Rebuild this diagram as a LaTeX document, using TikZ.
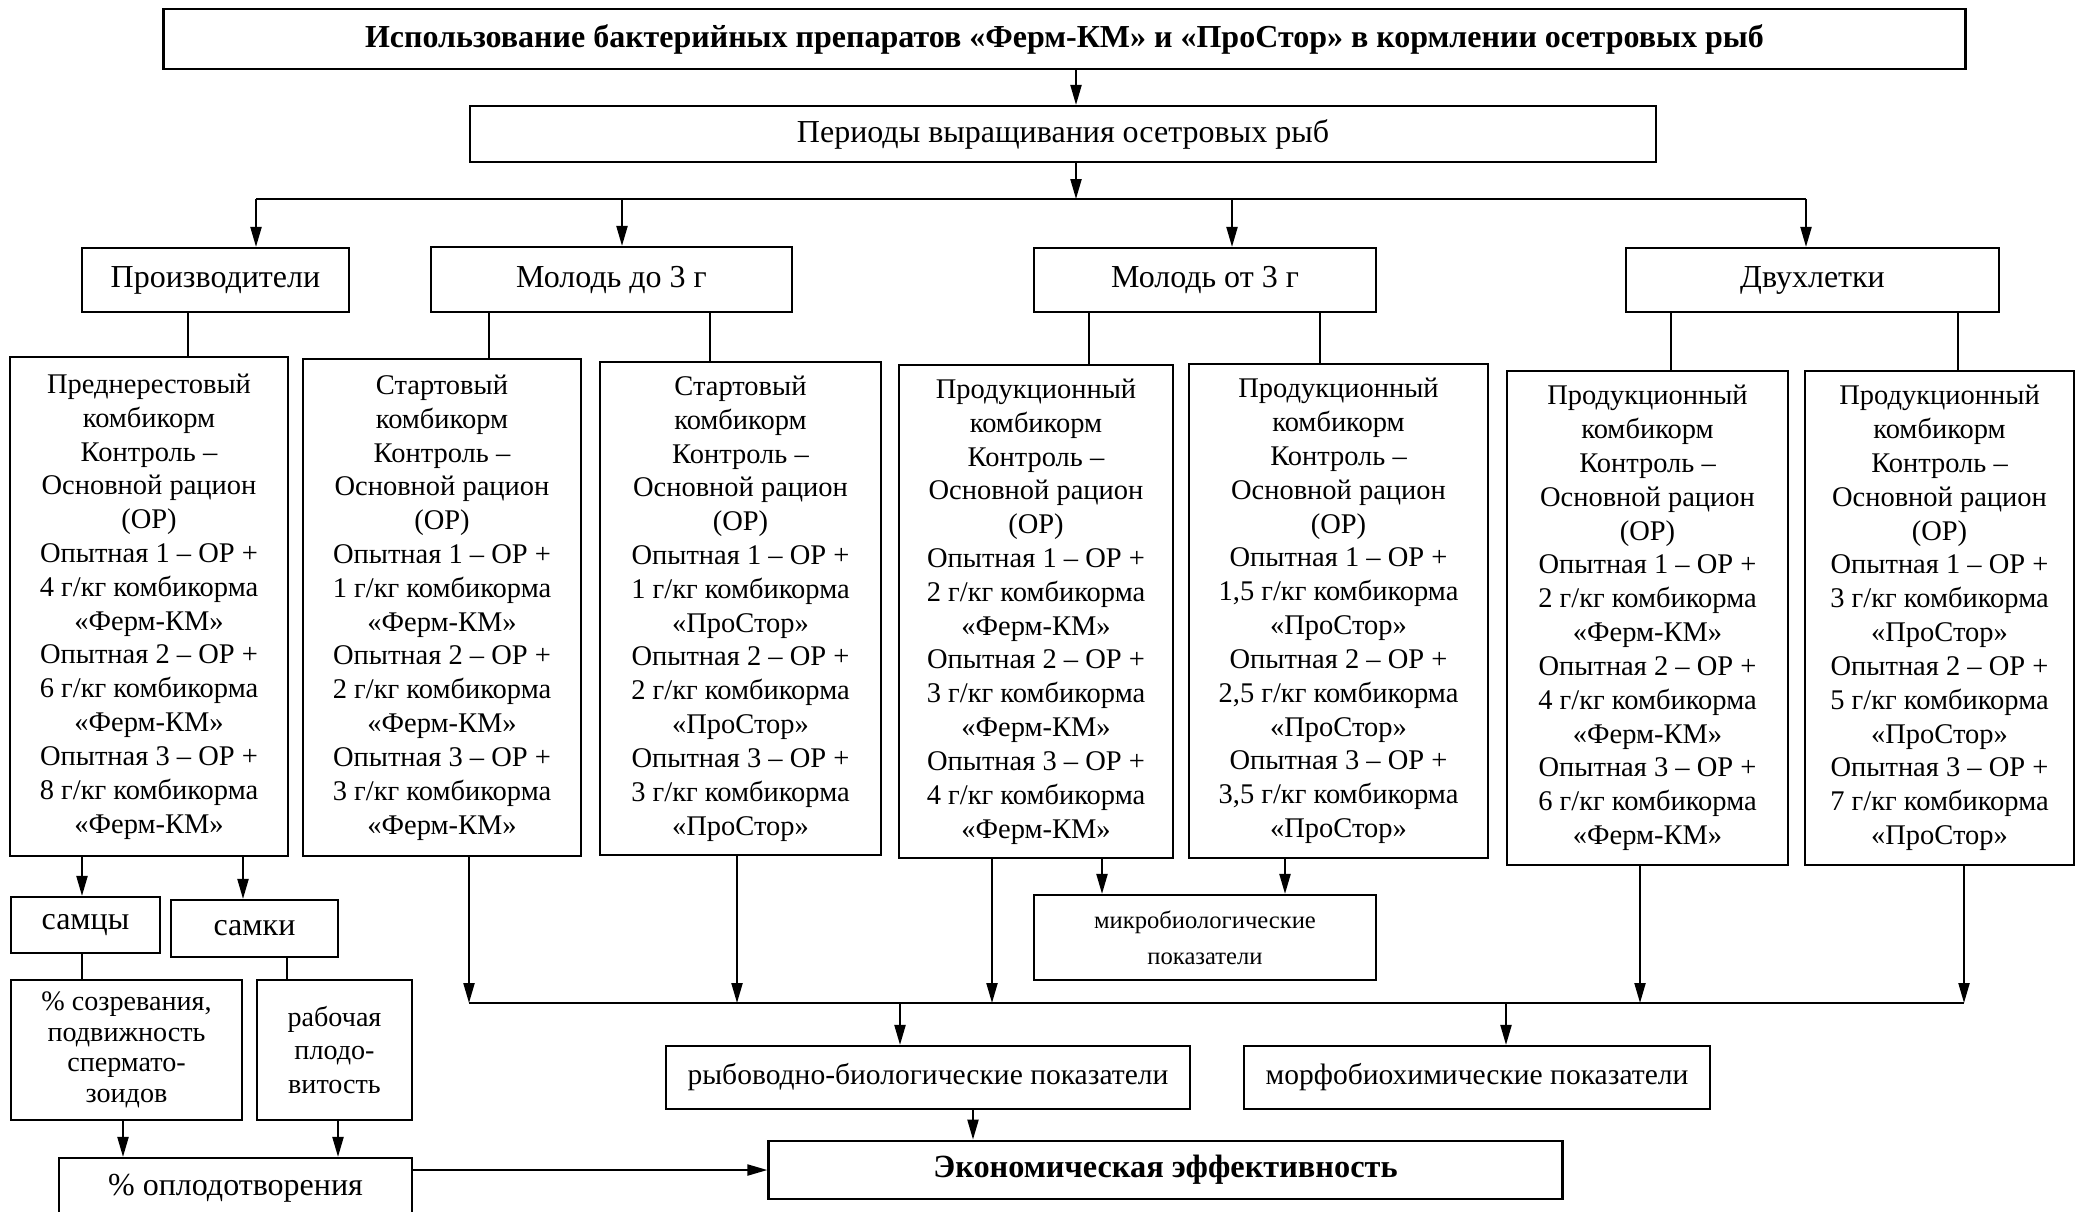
\documentclass[tikz,border=0pt]{standalone}
\usepackage{fontspec}
\setmainfont{Liberation Serif}
\usetikzlibrary{arrows.meta}

\newcommand{\korm}[5]{#1\\комбикорм\\Контроль --\\Основной рацион\\(ОР)\\Опытная 1 -- ОР +\\#2 г/кг комбикорма\\«#5»\\Опытная 2 -- ОР +\\#3 г/кг комбикорма\\«#5»\\Опытная 3 -- ОР +\\#4 г/кг комбикорма\\«#5»}

\begin{document}
\begin{tikzpicture}[x=0.01cm, y=-0.01cm,
        box/.style={draw, line width=0.6pt, inner sep=0pt, align=center},
        big/.style={font=\fontsize{9.1}{11}\selectfont},
        body/.style={font=\fontsize{8.1}{9.62}\selectfont},
        small/.style={font=\fontsize{7}{10.2}\selectfont},
        arr/.style={-{Triangle[length=2mm, width=1.1mm]}, line width=0.6pt}]
    \clip (0,0) rectangle (2076,1211);

    % top
    \node[box, line width=0.8pt, font=\fontsize{9.1}{11}\selectfont\bfseries, minimum width=18.01cm, minimum height=0.6cm] (title) at (1064.5,39)
        {Использование бактерийных препаратов «Ферм-КМ» и «ПроСтор» в кормлении осетровых рыб};
    \node[box, big, minimum width=11.86cm, minimum height=0.56cm] (periods) at (1063,134) {Периоды выращивания осетровых рыб};

    % periods
    \node[box, big, minimum width=2.67cm, minimum height=0.64cm] (prod) at (215.5,280) {Производители};
    \node[box, big, minimum width=3.61cm, minimum height=0.65cm] (mol1) at (611.5,279.5) {Молодь до 3 г};
    \node[box, big, minimum width=3.42cm, minimum height=0.64cm] (mol2) at (1205,280) {Молодь от 3 г};
    \node[box, big, minimum width=3.73cm, minimum height=0.64cm] (dvu) at (1812.5,280) {Двухлетки};

    % feeds
    \node[box, body, minimum width=2.78cm, minimum height=4.99cm] (pre) at (149,606.5) {\korm{Преднерестовый}{4}{6}{8}{Ферм-КМ}};
    \node[box, body, minimum width=2.78cm, minimum height=4.97cm] (startF) at (442,607.5) {\korm{Стартовый}{1}{2}{3}{Ферм-КМ}};
    \node[box, body, minimum width=2.81cm, minimum height=4.93cm] (startP) at (740.5,608.5) {\korm{Стартовый}{1}{2}{3}{ПроСтор}};
    \node[box, body, minimum width=2.74cm, minimum height=4.93cm] (prodF) at (1036,611.5) {\korm{Продукционный}{2}{3}{4}{Ферм-КМ}};
    \node[box, body, minimum width=2.99cm, minimum height=4.94cm] (prodP) at (1338.5,611) {\korm{Продукционный}{1,5}{2,5}{3,5}{ПроСтор}};
    \node[box, body, minimum width=2.81cm, minimum height=4.94cm] (dvuF) at (1647.5,618) {\korm{Продукционный}{2}{4}{6}{Ферм-КМ}};
    \node[box, body, minimum width=2.69cm, minimum height=4.94cm] (dvuP) at (1939.5,618) {\korm{Продукционный}{3}{5}{7}{ПроСтор}};

    % results
    \node[box, big, minimum width=1.49cm, minimum height=0.56cm] (samcy) at (85.5,925) {самцы};
    \node[box, big, minimum width=1.67cm, minimum height=0.57cm] (samki) at (254.5,928.5) {самки};
    \node[box, font=\fontsize{8}{8.7}\selectfont, minimum width=2.31cm, minimum height=1.4cm] (sozr) at (126.5,1050) {\% созревания,\\подвижность\\спермато-\\зоидов};
    \node[box, font=\fontsize{8}{9.4}\selectfont, minimum width=1.55cm, minimum height=1.4cm] (rab) at (334.5,1050) {рабочая\\плодо-\\витость};
    \node[box, big, minimum width=3.53cm, minimum height=0.6cm] (oplod) at (235.5,1188) {\% оплодотворения};
    \node[box, small, minimum width=3.42cm, minimum height=0.85cm] (mikro) at (1205,937.5) {микробиологические\\показатели};
    \node[box, font=\fontsize{8.4}{10}\selectfont, minimum width=5.24cm, minimum height=0.63cm] (ryb) at (928,1077.5) {рыбоводно-биологические показатели};
    \node[box, font=\fontsize{8.4}{10}\selectfont, minimum width=4.66cm, minimum height=0.63cm] (morf) at (1477,1077.5) {морфобиохимические показатели};
    \node[box, line width=0.8pt, font=\fontsize{9.2}{11}\selectfont\bfseries, minimum width=7.93cm, minimum height=0.58cm] (econ) at (1165.5,1170) {Экономическая эффективность};

    \coordinate (hub) at (1076,199);
    \coordinate (busL) at (256,199);
    \coordinate (busR) at (1806,199);
    \coordinate (sumL) at (469,1003);
    \coordinate (sumR) at (1964,1003);

    \draw[arr] (title.south -| hub) -- (periods.north -| hub);
    \draw[arr] (periods.south -| hub) -- (hub);
    \draw[line width=0.6pt] (busL) -- (busR);
    \draw[arr] (busL) -- (prod.north -| busL);
    \draw[arr] (busL -| 622,0) -- (mol1.north -| 622,0);
    \draw[arr] (busL -| 1232,0) -- (mol2.north -| 1232,0);
    \draw[arr] (busR) -- (dvu.north -| busR);

    \draw (prod.south -| 188,0) -- (pre.north -| 188,0);
    \draw (mol1.south -| 489,0) -- (startF.north -| 489,0);
    \draw (mol1.south -| 710,0) -- (startP.north -| 710,0);
    \draw (mol2.south -| 1089,0) -- (prodF.north -| 1089,0);
    \draw (mol2.south -| 1320,0) -- (prodP.north -| 1320,0);
    \draw (dvu.south -| 1671,0) -- (dvuF.north -| 1671,0);
    \draw (dvu.south -| 1958,0) -- (dvuP.north -| 1958,0);

    \draw[arr] (pre.south -| 82,0) -- (samcy.north -| 82,0);
    \draw[arr] (pre.south -| 243,0) -- (samki.north -| 243,0);
    \draw (samcy.south -| 82,0) -- (sozr.north -| 82,0);
    \draw (samki.south -| 287,0) -- (rab.north -| 287,0);
    \draw[arr] (sozr.south -| 123,0) -- (oplod.north -| 123,0);
    \draw[arr] (rab.south -| 338,0) -- (oplod.north -| 338,0);
    \draw[arr] (econ.west -| oplod.east) -- (econ.west);

    \draw[line width=0.6pt] (sumL) -- (sumR);
    \draw[arr] (startF.south -| sumL) -- (sumL);
    \draw[arr] (startP.south -| 737,0) -- (sumL -| 737,0);
    \draw[arr] (prodF.south -| 992,0) -- (sumL -| 992,0);
    \draw[arr] (dvuF.south -| 1640,0) -- (sumL -| 1640,0);
    \draw[arr] (dvuP.south -| sumR) -- (sumR);
    \draw[arr] (prodF.south -| 1102,0) -- (mikro.north -| 1102,0);
    \draw[arr] (prodP.south -| 1285,0) -- (mikro.north -| 1285,0);
    \draw[arr] (sumL -| 900,0) -- (ryb.north -| 900,0);
    \draw[arr] (sumL -| 1506,0) -- (morf.north -| 1506,0);
    \draw[arr] (ryb.south -| 973,0) -- (econ.north -| 973,0);
\end{tikzpicture}
\end{document}
